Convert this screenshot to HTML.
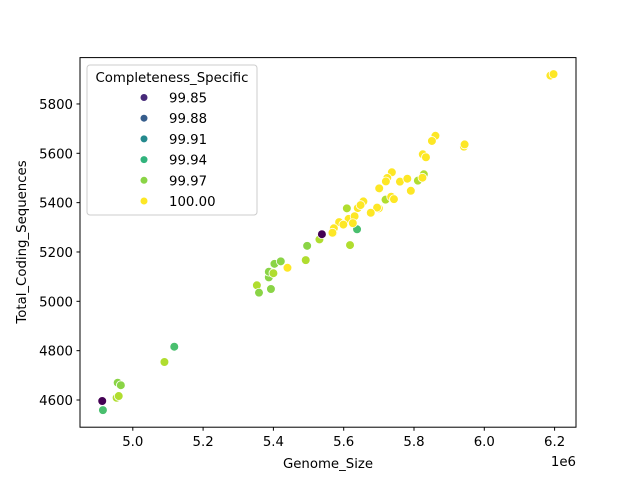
<!DOCTYPE html>
<html><head><meta charset="utf-8"><style>
body{margin:0;background:#fff}
svg text{font-family:"DejaVu Sans","Liberation Sans",sans-serif;fill:#000}
</style></head><body>
<svg id="chart" width="640" height="480" xmlns="http://www.w3.org/2000/svg">
<rect width="640" height="480" fill="#fff"/>
<g id="plot"></g>
<rect x="80" y="57.6" width="496" height="369.6" fill="none" stroke="#000" stroke-width="1"/>
<g id="axes"></g>
<text x="328" y="468" font-size="13.3" text-anchor="middle">Genome_Size</text>
<text transform="translate(26,242) rotate(-90)" font-size="13.3" text-anchor="middle">Total_Coding_Sequences</text>
<text x="576" y="466" font-size="13.3" text-anchor="end">1e6</text>
<g id="legend">
<rect x="87" y="65" width="170" height="150" rx="3" fill="#fff" fill-opacity="0.8" stroke="#ccc"/>
<text x="172" y="82" font-size="13.3" text-anchor="middle">Completeness_Specific</text>
</g>
</svg>
<script>
const genomeSize=[4.913,4.915,4.957,4.966,4.954,4.960,5.090,5.118,5.353,5.359,5.393,5.387,5.387,5.403,5.421,5.400,5.440,5.492,5.496,5.531,5.538,5.618,5.638,5.570,5.572,5.861,5.851,5.942,5.944,5.825,5.834,5.737,5.724,5.720,5.760,5.781,5.828,5.811,5.824,5.701,5.791,5.719,5.735,5.743,5.656,5.640,5.648,5.609,5.700,5.695,5.677,5.614,5.631,5.626,5.587,5.572,5.599,5.568,6.188,6.197];
const codingSeqs=[4596,4559,4670,4660,4609,4616,4754,4816,5065,5035,5050,5097,5120,5152,5162,5114,5136,5167,5225,5251,5272,5228,5292,5277,5297,5671,5650,5627,5636,5596,5584,5523,5500,5486,5485,5497,5515,5489,5501,5458,5448,5412,5424,5414,5405,5378,5390,5377,5377,5380,5359,5334,5345,5317,5321,5296,5311,5278,5915,5921];
const completeness=[99.83,99.95,99.97,99.97,99.98,99.98,99.98,99.95,99.98,99.97,99.97,99.97,99.97,99.97,99.97,99.98,100,99.98,99.97,99.98,99.83,99.98,99.95,100,100,100,100,100,100,100,100,100,100,100,100,100,99.98,99.98,100,100,100,99.98,100,100,100,100,100,99.98,100,100,100,100,100,100,100,100,100,100,100,100];
const xTicks=[5.0,5.2,5.4,5.6,5.8,6.0,6.2];
const xTickLabels=["5.0","5.2","5.4","5.6","5.8","6.0","6.2"];
const yTicks=[4600,4800,5000,5200,5400,5600,5800];
const legendValues=[99.85,99.88,99.91,99.94,99.97,100.00];
const legendLabels=["99.85","99.88","99.91","99.94","99.97","100.00"];
const NS="http://www.w3.org/2000/svg";
const xs=v=>132.8+(v-5)*351.5;
const ys=v=>400-(v-4600)*0.2467;
const vir=[[68,1,84],[72,40,120],[62,74,137],[49,104,142],[38,130,142],[31,158,137],[53,183,121],[109,205,89],[180,222,44],[253,231,37]];
function color(v){let t=(v-99.83)/0.17;t=Math.max(0,Math.min(1,t))*9;const i=Math.min(8,Math.floor(t)),f=t-i;const c=vir[i].map((a,k)=>Math.round(a+(vir[i+1][k]-a)*f));return `rgb(${c})`;}
function mk(tag,attrs,parent){const e=document.createElementNS(NS,tag);for(const k in attrs)e.setAttribute(k,attrs[k]);parent.appendChild(e);return e;}
const plot=document.getElementById('plot');
genomeSize.forEach((g,i)=>{
 const c=mk('circle',{cx:xs(g),cy:ys(codingSeqs[i]),r:4.4,fill:color(completeness[i]),stroke:'#fff','stroke-width':0.8},plot);
 
 
});
const axes=document.getElementById('axes');
xTicks.forEach((t,i)=>{
 const l=mk('line',{x1:xs(t),x2:xs(t),y1:427.2,y2:430.7,stroke:'#000'},axes);
 
 
 const tx=mk('text',{x:xs(t),y:446,'font-size':13.3,'text-anchor':'middle'},axes);
 tx.textContent=xTickLabels[i];
 
 
});
yTicks.forEach(t=>{
 const l=mk('line',{x1:76.5,x2:80,y1:ys(t),y2:ys(t),stroke:'#000'},axes);
 
 
 const tx=mk('text',{x:73,y:ys(t)+5,'font-size':13.3,'text-anchor':'end'},axes);
 tx.textContent=String(t);
 
 
});
const leg=document.getElementById('legend');
legendValues.forEach((v,i)=>{
 const y=97.5+i*20.7;
 const c=mk('circle',{cx:144,cy:y,r:3.5,fill:color(v)},leg);
 
 
 const tx=mk('text',{x:169,y:y+5,'font-size':13.3},leg);
 tx.textContent=legendLabels[i];
 
 
});
</script>
</body></html>
